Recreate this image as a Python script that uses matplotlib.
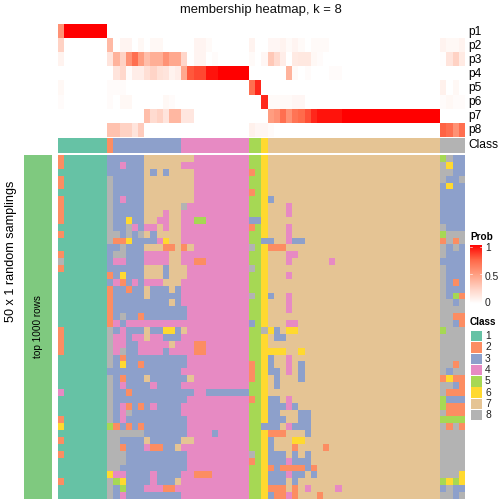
#!/usr/bin/env python3
"""Membership heatmap, k = 8, with class annotation and consensus rows."""

import numpy as np
import matplotlib
matplotlib.use("Agg")
import matplotlib.pyplot as plt
from matplotlib.colors import ListedColormap, LinearSegmentedColormap

plt.rcParams["font.family"] = ["Liberation Sans", "DejaVu Sans"]

W, H = 504, 504

CLASS_COLORS = ["#66C2A5", "#FC8D62", "#8DA0CB", "#E78AC3",
                "#A6D854", "#FFD92F", "#E5C494", "#B3B3B3"]
CLASS_LABELS = ["1", "2", "3", "4", "5", "6", "7", "8"]
PROB_STOPS = ["#FFFFFF", "#FFD3C5", "#FF9E81", "#FF6545", "#FF0000"]
ROW_LABELS = ["p1", "p2", "p3", "p4", "p5", "p6", "p7", "p8"]

# groups: c0-7, c8-19, c20-30, c31-33, c34-45, c46-61, c62-65
p1 = [.55, 1, 1, 1, 1, 1, 1, 1,
      0, 0, 0, 0, 0, 0, 0, 0, 0, 0, 0, 0,
      0, 0, 0, 0, 0, 0, 0, 0, 0, 0, 0,
      0, 0, 0,
      0, 0, 0, 0, 0, 0, 0, 0, 0, 0, 0, 0,
      0, 0, 0, 0, 0, 0, 0, 0, 0, 0, 0, 0, 0, 0, 0, 0,
      0, 0, 0, 0]
p2 = [.25, 0, 0, 0, 0, 0, 0, 0,
      .37, 0, .06, .06, 0, .04, 0, .04, .04, 0, 0, 0,
      0, 0, .06, .06, .03, 0, 0, 0, 0, 0, 0,
      .07, 0, 0,
      .05, .05, .07, .03, .06, .03, 0, .03, .03, .03, 0, 0,
      0, 0, 0, 0, 0, 0, 0, 0, 0, 0, 0, 0, 0, 0, 0, 0,
      .07, .04, .04, .07]
p3 = [.07, 0, 0, 0, 0, 0, 0, 0,
      .15, .4, .25, .55, .7, .5, .35, .42, .42, .55, .45, .45,
      .23, 0, .06, .06, 0, .02, 0, 0, 0, 0, 0,
      .03, 0, .05,
      .3, .2, .1, 0, .12, .13, .13, .04, .02, 0, 0, 0,
      0, 0, 0, 0, 0, 0, 0, 0, 0, 0, 0, 0, 0, 0, 0, 0,
      .01, .15, .25, .12]
p4 = [0, 0, 0, 0, 0, 0, 0, 0,
      0, .15, .22, .02, .1, .1, .18, .24, .17, .15, .07, .1,
      .45, .78, .82, .82, .95, .95, 1, 1, 1, 1, 1,
      0, 0, 0,
      0, 0, 0, .4, .03, 0, .02, 0, 0, 0, .02, .02,
      0, 0, 0, 0, 0, 0, 0, 0, 0, 0, 0, 0, 0, 0, 0, 0,
      0, 0, 0, 0]
p5 = [.04, 0, 0, 0, 0, 0, 0, 0,
      .02, .02, .02, 0, 0, 0, 0, 0, 0, 0, 0, 0,
      0, 0, 0, 0, 0, 0, 0, 0, 0, 0, 0,
      .7, .9, 0,
      0, 0, 0, 0, 0, 0, 0, 0, 0, 0, 0, 0,
      0, 0, 0, 0, 0, 0, 0, 0, 0, 0, 0, 0, 0, 0, 0, 0,
      .08, 0, .04, 0]
p6 = [.02, 0, 0, 0, 0, 0, 0, 0,
      .02, 0, .04, .04, 0, 0, 0, 0, 0, .04, .02, 0,
      0, 0, 0, 0, 0, 0, 0, 0, 0, 0, 0,
      0, 0, .9,
      .03, .03, .03, .03, .05, .05, 0, 0, 0, 0, 0, 0,
      0, 0, 0, 0, 0, 0, 0, 0, 0, 0, 0, 0, 0, 0, 0, 0,
      .02, .04, .02, .02]
p7 = [0, 0, 0, 0, 0, 0, 0, 0,
      0, 0, 0, 0, 0, 0, .35, .2, .25, .15, .38, .38,
      .14, .14, 0, 0, 0, 0, 0, 0, 0, 0, 0,
      0, 0, 0,
      .5, .55, .7, .55, .68, .72, .8, .9, .95, .95, .95, .95,
      1, 1, 1, 1, 1, 1, 1, 1, 1, 1, 1, 1, 1, 1, 1, 1,
      0, 0, 0, 0]
p8 = [0, 0, 0, 0, 0, 0, 0, 0,
      .33, .33, .25, .25, .15, .28, 0, 0, 0, 0, 0, 0,
      0, 0, 0, 0, 0, 0, 0, 0, 0, 0, 0,
      .08, .05, .05,
      .02, 0, 0, 0, 0, 0, 0, 0, 0, 0, 0, 0,
      0, 0, 0, 0, 0, 0, 0, 0, 0, 0, 0, 0, 0, 0, 0, 0,
      .75, .7, .55, .7]

# per column class of the consensus
consensus = ("11111111 233333333333 44444444444 556 777777777777 "
             "7777777777777777 8888")

# one string per random sampling, 66 columns, same groups as above
samplings = [
    "21111111 333333777777 77444444444 556 777777777777 7777777777777777 5833",
    "21111111 334333777777 44444444444 556 777777777777 7777777777777777 8633",
    "11111111 333333737377 77444444444 256 777777777777 7777777777777777 8833",
    "21111111 833333777777 77444444444 556 777777777777 7777777777777777 8338",
    "21111111 833333777777 77444444444 556 777777777777 7777777777777777 3633",
    "11111111 833333777777 77444444444 256 777777777777 7777777777777777 3333",
    "21111111 834333777777 77444444444 556 377777777777 7777777777777777 3333",
    "21111111 833333777777 84444444444 556 777477777777 7777777777777777 3333",
    "21111111 833333777477 44444444444 556 777477777777 7777777777777777 3333",
    "21111111 833633774477 44554444444 336 777777777777 7777777777777777 3333",
    "11111111 833843447477 44444444444 256 777477777777 7777777777777777 8333",
    "21111111 883838737777 44444444444 556 777477777777 7777777777777777 5888",
    "11111111 822633334677 44444444444 553 377433777777 7777777777777777 2828",
    "11111111 338333777227 27444444444 856 222777777777 7777777777777777 8383",
    "21111111 388333444477 44444444444 556 777447777777 7777777777777777 8333",
    "81111111 344333444477 44224444444 556 777477777747 7777777777777777 3333",
    "21111111 333333777377 74444444444 856 777777777777 7777777777777777 8333",
    "11111111 236333777377 74444444444 556 777477777777 7777777777777777 8333",
    "11111111 342343444777 44444444444 556 777777777777 7777777777777777 8323",
    "11111111 233233733373 44444444444 556 777777777777 7777777777777777 8333",
    "11111111 233333733333 44444444444 856 377477777777 7777777777777777 8352",
    "11111111 233333333373 44444444444 556 777477777777 7777777777777777 8838",
    "11111111 233333333333 34444444444 556 777477777777 7777777777777777 8888",
    "11111111 238332333333 34444444444 556 777777777777 7777777777777777 8822",
    "11111111 243444444444 44444444444 356 777447777777 7777777777777777 8832",
    "21111111 834333733663 74444444444 558 637667777777 7777777777777777 5888",
    "21111111 844344744333 44444444444 556 733777777777 7777777777777777 8888",
    "21111111 844334444474 44224444444 556 777777777777 7777777777777777 8888",
    "21111111 848334444344 44224444444 556 666776777777 7777777777777777 8888",
    "11111111 832333333333 34444444444 556 377477777777 7777777777777777 8888",
    "11111111 836332333333 34444444444 256 377473777777 7777777777777777 8828",
    "11111111 333333333333 44444444444 256 337473777777 7777777777777777 8388",
    "11111111 832333733333 37444444444 256 737773777777 7777777777777777 2622",
    "11111111 834333343333 44444444444 556 737777777777 7777777777777777 8832",
    "41111111 833233333333 33443333333 556 777777777777 7777777777777777 8222",
    "11111111 833333333333 34444444444 256 337477777777 7777777777777777 5333",
    "11111111 834232343333 44444444444 556 333437777777 7777777777777777 5222",
    "11111111 834833333333 44444444444 556 337773377777 7777777777777777 8222",
    "21111111 834333333333 34444444444 556 333773377777 7777777777777777 5555",
    "61111111 523232333333 34444444444 553 337433377777 7777777777777777 8282",
    "11111111 888888333333 34444344444 556 222777377777 7777777777777777 8888",
    "21111111 883333733333 77444444444 556 377766777777 7777777777777777 8888",
    "11111111 882333422337 44444444444 556 377727777277 7777777777777777 8888",
    "21111111 888333333333 34444444444 856 333737377777 7777777777777777 8888",
    "11111111 888333333333 34444444444 256 333433377777 7777777777777777 8888",
    "11111111 883333333333 34444444444 556 232222327777 7777777777777777 8888",
    "11111111 644333343333 44222444444 556 333433737777 7777777777777777 8886",
    "21111111 856333343337 44444444444 556 333737777777 7777777777777777 5656",
    "11111111 835333444224 44444444444 556 222727477774 7777777777777777 3833",
    "11111111 834333333333 44444444444 556 322427772777 7777777777777777 8838",
]


def px_axes(fig, x0, y0, x1, y1):
    """Axes from pixel box, y measured from the top of the image."""
    ax = fig.add_axes([x0 / W, 1 - y1 / H, (x1 - x0) / W, (y1 - y0) / H])
    ax.set_axis_off()
    return ax


def to_grid(rows):
    return np.array([[int(ch) for ch in row.replace(" ", "")] for row in rows])


def main():
    fig = plt.figure(figsize=(W / 72, H / 72), dpi=72)
    class_cmap = ListedColormap(CLASS_COLORS)
    prob_cmap = LinearSegmentedColormap.from_list("prob", PROB_STOPS)

    fig.text(261 / W, 1 - 10 / H, "membership heatmap, k = 8", fontsize=13,
             ha="center", va="center", color="#111111")

    # probability rows
    ax = px_axes(fig, 58, 24, 465, 137)
    probs = np.array([p1, p2, p3, p4, p5, p6, p7, p8], dtype=float)
    ax.imshow(probs, cmap=prob_cmap, vmin=0, vmax=1, aspect="auto",
              interpolation="nearest")
    for i, label in enumerate(ROW_LABELS):
        fig.text(468 / W, 1 - (31.5 + 14.1 * i) / H, label, fontsize=12,
                 ha="left", va="center")

    # class annotation
    ax = px_axes(fig, 58, 138, 465, 153)
    ax.imshow(to_grid([consensus]), cmap=class_cmap, vmin=1, vmax=8,
              aspect="auto", interpolation="nearest")
    fig.text(468 / W, 1 - 145.5 / H, "Class", fontsize=12, ha="left", va="center")

    # samplings
    ax = px_axes(fig, 58, 155, 465, 499)
    ax.imshow(to_grid(samplings), cmap=class_cmap, vmin=1, vmax=8,
              aspect="auto", interpolation="nearest")

    # row title strip
    ax = px_axes(fig, 24, 155, 52, 499)
    ax.set_axis_on()
    ax.set_facecolor("#7FC97F")
    ax.set_xticks([])
    ax.set_yticks([])
    for spine in ax.spines.values():
        spine.set_visible(False)
    fig.text(38 / W, 1 - 327 / H, "top 1000 rows", fontsize=10, rotation=90,
             ha="center", va="center")
    fig.text(11 / W, 1 - 251 / H, "50 x 1 random samplings", fontsize=12.6,
             rotation=90, ha="center", va="center")

    # Prob legend
    fig.text(470 / W, 1 - 237 / H, "Prob", fontsize=10, fontweight="bold",
             ha="left", va="center")
    ax = px_axes(fig, 470, 245, 482, 304)
    ramp = np.linspace(1, 0, 64).reshape(-1, 1)
    ax.imshow(ramp, cmap=prob_cmap, vmin=0, vmax=1, aspect="auto")
    for frac in [0.02, 0.5, 0.98]:
        ax.plot([-0.5, -0.3], [frac * 63] * 2, color="white", lw=0.6)
        ax.plot([0.3, 0.5], [frac * 63] * 2, color="white", lw=0.6)
    ax.set_xlim(-0.5, 0.5)
    ax.set_ylim(63.5, -0.5)
    for y, label in [(248, "1"), (277, "0.5"), (303, "0")]:
        fig.text(485 / W, 1 - y / H, label, fontsize=10.3, ha="left", va="center",
                 color="#222222")

    # Class legend
    fig.text(470 / W, 1 - 322 / H, "Class", fontsize=10, fontweight="bold",
             ha="left", va="center")
    for i, (color, label) in enumerate(zip(CLASS_COLORS, CLASS_LABELS)):
        top = 330.5 + 11.3 * i
        ax = px_axes(fig, 470.5, top + 0.5, 481.5, top + 10.8)
        ax.set_axis_on()
        ax.set_facecolor(color)
        ax.set_xticks([])
        ax.set_yticks([])
        for spine in ax.spines.values():
            spine.set_visible(False)
        fig.text(485 / W, 1 - (top + 5.7) / H, label, fontsize=10.3, ha="left",
                 va="center", color="#222222")

    fig.savefig("out.png", dpi=72)
    plt.close(fig)


if __name__ == "__main__":
    main()
